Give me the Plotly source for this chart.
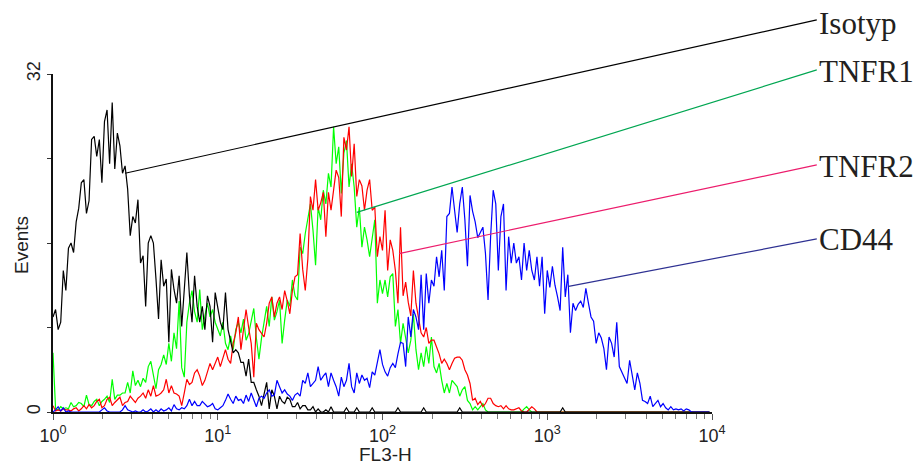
import math
import plotly.graph_objects as go

# ---- data ----
channels = list(range(256))  # histogram channel (256-channel log scale over 4 decades)

isotyp = [
    9.0, 9.7, 7.8, 8.5, 13.4, 11.5, 15.5, 16.0, 15.1, 18.0, 19.3, 21.7, 22.0, 18.8, 20.0, 25.8,
    26.1, 24.2, 25.8, 21.7, 27.5, 28.6, 23.5, 29.3, 23.0, 26.4, 25.2, 22.6, 23.3, 21.1, 16.7, 18.5,
    17.9, 20.1, 14.1, 14.8, 10.0, 16.0, 16.7, 16.0, 12.6, 8.8, 14.4, 11.9, 12.6, 6.6, 13.5, 11.6,
    10.3, 12.9, 8.1, 11.6, 15.1, 11.0, 8.5, 12.9, 10.0, 8.5, 10.0, 7.8, 11.0, 10.0, 6.6, 11.3,
    9.7, 8.5, 7.8, 11.3, 7.8, 6.6, 5.6, 5.9, 5.6, 4.7, 4.7, 3.4, 5.0, 2.8, 2.8, 2.1,
    1.5, 0.6, 1.8, 2.8, 0.3, 2.1, 1.5, 0.3, 1.5, 1.0, 0.8, 1.4, 1.2, 0.5, 0.5, 0.9,
    0.3, 0.6, 0.6, 0.2, 0.2, 0.5, 0.0, 0.3, 0.0, 0.0, 0.2, 0.0, 0.5, 0.0, 0.0, 0.0,
    0.0, 0.0, 0.4, 0.0, 0.0, 0.0, 0.4, 0.0, 0.0, 0.0, 0.0, 0.0, 0.4, 0.0, 0.0, 0.0,
    0.0, 0.0, 0.0, 0.0, 0.0, 0.0, 0.4, 0.0, 0.0, 0.0, 0.0, 0.0, 0.0, 0.0, 0.0, 0.0,
    0.4, 0.0, 0.0, 0.0, 0.0, 0.0, 0.0, 0.0, 0.0, 0.0, 0.0, 0.0, 0.0, 0.0, 0.4, 0.0,
    0.0, 0.0, 0.0, 0.0, 0.0, 0.0, 0.0, 0.0, 0.0, 0.0, 0.0, 0.0, 0.0, 0.0, 0.0, 0.0,
    0.0, 0.0, 0.0, 0.0, 0.0, 0.0, 0.0, 0.0, 0.0, 0.0, 0.0, 0.0, 0.0, 0.0, 0.0, 0.0,
    0.0, 0.0, 0.0, 0.0, 0.0, 0.0, 0.4, 0.0, 0.0, 0.0, 0.0, 0.0, 0.0, 0.0, 0.0, 0.0,
    0.0, 0.0, 0.0, 0.0, 0.0, 0.0, 0.0, 0.0, 0.0, 0.0, 0.0, 0.0, 0.0, 0.0, 0.0, 0.0,
    0.0, 0.0, 0.0, 0.0, 0.0, 0.0, 0.0, 0.0, 0.0, 0.0, 0.0, 0.0, 0.0, 0.0, 0.0, 0.0,
    0.0, 0.0, 0.0, 0.0, 0.0, 0.0, 0.0, 0.0, 0.0, 0.0, 0.0, 0.0, 0.0, 0.0, 0.0, 0.0,
]

tnfr1 = [
    5.6, 0.3, 0.2, 0.5, 0.3, 0.4, 0.3, 0.9, 0.5, 0.6, 0.9, 0.8, 0.5, 1.6, 0.7, 0.6,
    1.0, 1.2, 0.6, 1.0, 1.2, 1.5, 0.9, 3.1, 1.2, 1.6, 1.6, 1.8, 1.8, 2.8, 1.8, 3.9,
    2.5, 3.0, 2.4, 3.2, 2.8, 4.3, 4.8, 3.3, 2.2, 4.0, 4.5, 5.4, 4.5, 6.5, 4.8, 7.5,
    6.0, 10.5, 4.2, 3.3, 8.5, 10.3, 11.5, 9.5, 8.5, 11.6, 7.8, 9.1, 10.3, 9.0, 9.7, 8.5,
    7.8, 7.2, 8.5, 6.5, 5.9, 7.2, 5.9, 7.8, 8.5, 7.5, 8.8, 6.8, 7.4, 8.5, 9.8, 7.0,
    5.0, 7.0, 8.7, 10.0, 8.1, 10.9, 8.7, 9.5, 10.6, 6.5, 8.7, 10.6, 10.0, 12.5, 11.0, 10.6,
    15.6, 15.0, 16.9, 18.2, 19.7, 17.2, 13.9, 19.4, 18.2, 21.0, 19.7, 22.6, 21.3, 27.0, 23.5, 25.1,
    20.7, 24.5, 25.7, 21.3, 23.5, 21.3, 17.5, 19.4, 15.6, 17.5, 16.3, 14.7, 16.6, 18.2, 10.3, 12.5,
    11.2, 12.5, 10.9, 12.8, 13.1, 8.1, 9.7, 6.5, 8.4, 7.1, 5.6, 6.8, 9.3, 5.9, 4.0, 5.6,
    4.3, 6.2, 4.6, 7.1, 4.3, 3.7, 4.6, 3.0, 1.8, 2.7, 1.8, 3.0, 2.7, 2.4, 1.5, 2.1,
    2.4, 1.1, 0.8, 0.2, 0.5, 0.2, 0.5, 0.8, 0.2, 0.0, 0.0, 0.0, 0.0, 0.0, 0.0, 0.0,
    0.0, 0.0, 0.0, 0.0, 0.0, 0.0, 0.0, 0.3, 0.5, 0.2, 0.0, 0.0, 0.0, 0.0, 0.0, 0.0,
    0.0, 0.0, 0.0, 0.0, 0.0, 0.0, 0.0, 0.0, 0.0, 0.0, 0.0, 0.0, 0.0, 0.0, 0.0, 0.0,
    0.0, 0.0, 0.0, 0.0, 0.0, 0.0, 0.0, 0.0, 0.0, 0.0, 0.0, 0.0, 0.0, 0.0, 0.0, 0.0,
    0.0, 0.0, 0.0, 0.0, 0.0, 0.0, 0.0, 0.0, 0.0, 0.0, 0.0, 0.0, 0.0, 0.0, 0.0, 0.0,
    0.0, 0.0, 0.0, 0.0, 0.0, 0.0, 0.0, 0.0, 0.0, 0.0, 0.0, 0.0, 0.0, 0.0, 0.0, 0.0,
]

tnfr2 = [
    0.6, 0.1, 0.2, 0.1, 0.3, 0.2, 0.2, 0.1, 0.3, 0.4, 0.1, 0.3, 0.6, 0.3, 0.7, 0.4,
    0.6, 1.0, 1.2, 0.4, 0.6, 1.2, 1.4, 0.6, 0.9, 1.2, 1.4, 0.6, 0.9, 1.0, 1.5, 1.2,
    0.9, 1.3, 1.5, 1.8, 1.3, 2.1, 1.5, 2.5, 1.5, 1.6, 1.8, 2.1, 3.1, 1.8, 2.5, 1.8,
    1.7, 1.5, 0.6, 1.8, 3.1, 2.6, 2.8, 3.7, 4.0, 3.4, 2.5, 3.0, 3.7, 4.6, 4.0, 4.7,
    5.2, 4.3, 5.2, 5.9, 5.0, 4.6, 6.5, 7.5, 9.0, 5.9, 7.8, 9.7, 8.0, 6.5, 3.3, 8.4,
    7.8, 7.5, 7.1, 8.4, 10.3, 10.9, 9.0, 10.3, 10.9, 9.7, 11.5, 10.5, 9.3, 11.5, 12.8, 13.0,
    16.9, 13.5, 11.5, 14.5, 20.4, 19.1, 22.0, 19.1, 19.8, 20.8, 16.6, 20.8, 19.1, 21.0, 22.9, 22.2,
    18.5, 26.0, 24.8, 27.0, 22.3, 25.4, 20.4, 22.0, 21.4, 19.1, 21.0, 22.0, 19.1, 19.4, 14.7, 16.6,
    15.3, 19.1, 13.4, 16.3, 15.3, 13.4, 10.3, 17.5, 11.0, 12.3, 10.4, 9.1, 13.4, 10.3, 9.0, 7.5,
    7.1, 8.0, 6.5, 6.8, 6.8, 6.2, 5.5, 4.6, 5.0, 4.6, 4.0, 4.6, 5.1, 5.2, 5.2, 4.9,
    4.0, 3.5, 2.7, 1.1, 1.3, 0.7, 1.0, 0.5, 0.8, 1.3, 1.3, 0.8, 0.6, 0.5, 0.6, 0.3,
    0.6, 0.3, 0.2, 0.2, 0.3, 0.4, 0.1, 0.0, 0.0, 0.3, 0.5, 0.3, 0.0, 0.0, 0.0, 0.0,
    0.0, 0.0, 0.0, 0.0, 0.0, 0.0, 0.0, 0.0, 0.0, 0.0, 0.0, 0.0, 0.0, 0.0, 0.0, 0.0,
    0.0, 0.0, 0.0, 0.0, 0.0, 0.0, 0.0, 0.0, 0.0, 0.0, 0.0, 0.0, 0.0, 0.0, 0.0, 0.0,
    0.0, 0.0, 0.0, 0.0, 0.0, 0.0, 0.0, 0.0, 0.0, 0.0, 0.0, 0.0, 0.0, 0.0, 0.0, 0.0,
    0.0, 0.0, 0.0, 0.0, 0.0, 0.0, 0.0, 0.0, 0.0, 0.0, 0.0, 0.0, 0.0, 0.0, 0.0, 0.0,
]

cd44 = [
    0.0, 0.2, 0.5, 0.1, 0.4, 0.0, 0.1, 0.0, 0.0, 0.0, 0.0, 0.0, 0.0, 0.0, 0.0, 0.0,
    0.0, 0.0, 0.0, 0.2, 0.4, 0.1, 0.0, 0.0, 0.0, 0.0, 0.0, 0.2, 0.6, 0.2, 0.1, 0.0,
    0.1, 0.0, 0.0, 0.2, 0.0, 0.1, 0.3, 0.0, 0.2, 0.0, 0.3, 0.1, 0.2, 0.4, 0.1, 0.7,
    0.3, 0.2, 0.4, 0.3, 0.6, 1.2, 0.6, 1.0, 0.6, 0.6, 1.0, 0.7, 0.5, 0.6, 0.8, 0.3,
    0.2, 0.4, 0.6, 1.1, 1.7, 1.2, 0.8, 1.5, 1.1, 1.2, 0.8, 1.6, 1.0, 1.8, 1.1, 0.5,
    1.3, 1.5, 1.3, 1.8, 2.1, 1.5, 1.6, 3.0, 2.4, 1.8, 2.1, 1.7, 1.5, 1.1, 1.6, 1.8,
    1.5, 3.0, 2.7, 3.7, 2.4, 2.7, 3.0, 4.3, 3.0, 3.4, 3.7, 2.4, 3.7, 3.0, 2.4, 1.5,
    3.3, 2.4, 3.0, 4.6, 2.4, 1.8, 3.7, 2.7, 3.5, 3.0, 3.2, 2.3, 3.8, 3.5, 4.6, 5.9,
    4.5, 3.8, 3.4, 4.2, 4.6, 4.2, 5.5, 6.6, 6.5, 4.3, 9.0, 7.1, 9.7, 9.0, 7.8, 13.0,
    7.8, 13.1, 10.3, 12.5, 11.9, 14.7, 12.8, 15.3, 11.5, 18.5, 18.8, 21.3, 19.1, 17.0, 19.7, 21.3,
    18.2, 13.8, 20.5, 19.0, 18.0, 16.5, 17.0, 17.5, 15.0, 10.6, 16.6, 21.0, 19.7, 13.4, 18.5, 19.7,
    11.5, 16.6, 14.1, 16.0, 14.1, 14.7, 12.5, 16.0, 13.4, 15.3, 13.4, 12.5, 14.7, 11.9, 14.7, 9.3,
    13.4, 11.8, 13.8, 12.0, 10.9, 9.6, 15.6, 10.9, 13.0, 7.5, 10.3, 9.6, 10.2, 10.5, 9.9, 11.7,
    10.3, 9.0, 8.6, 6.5, 7.5, 7.0, 6.0, 4.0, 7.1, 6.5, 5.2, 8.5, 4.3, 3.8, 3.3, 2.7,
    4.9, 3.3, 2.1, 3.7, 2.7, 1.1, 1.0, 0.8, 1.5, 0.5, 0.8, 1.1, 0.5, 0.8, 0.4, 0.2,
    0.5, 0.2, 0.3, 0.2, 0.3, 0.1, 0.3, 0.2, 0.0, 0.0, 0.0, 0.0, 0.0, 0.0, 0.0, 0.0,
]

series_names = ["Isotyp", "TNFR1", "TNFR2", "CD44"]
# point on each curve where its label leader line starts (channel, events)
anchor_channel = [28, 118, 134.4, 200.3]
anchor_events = [22.6, 18.9, 15.0, 11.9]

x_tick_values = [1, 10, 100, 1000, 10000]
x_tick_text = ["10<sup>0</sup>", "10<sup>1</sup>", "10<sup>2</sup>", "10<sup>3</sup>", "10<sup>4</sup>"]
y_tick_values = [0, 32]
y_tick_text = ["0", "32"]
y_minor_ticks = [8, 16, 24]


# ---- figure ----
def fl3(ch):
    return 10 ** (ch / 64.0)


x_vals = [fl3(c) for c in channels]
series = {"Isotyp": isotyp, "TNFR1": tnfr1, "TNFR2": tnfr2, "CD44": cd44}
trace_color = {"Isotyp": "#000000", "TNFR1": "#00ff00", "TNFR2": "#ff0000", "CD44": "#0000ff"}
leader_color = {"Isotyp": "#000000", "TNFR1": "#00a651", "TNFR2": "#ec1c6c", "CD44": "#2e3192"}

fig = go.Figure()
for name in ["TNFR1", "TNFR2", "Isotyp", "CD44"]:
    fig.add_trace(go.Scatter(
        x=x_vals, y=series[name], mode="lines", name=name,
        line=dict(color=trace_color[name], width=1.2),
        showlegend=False, hoverinfo="skip",
    ))

Y_MAX = 32.0
label_end_y = [1.160, 1.012, 0.731, 0.512]
label_text_y = [1.150, 1.006, 0.727, 0.509]
END_X = 1.159
TEXT_X = 1.160

shapes = []
annotations = []
for i, name in enumerate(series_names):
    x0 = math.log10(fl3(anchor_channel[i])) / 4.0
    y0 = anchor_events[i] / Y_MAX
    shapes.append(dict(
        type="line", xref="paper", yref="paper",
        x0=x0, y0=y0, x1=END_X, y1=label_end_y[i],
        line=dict(color=leader_color[name], width=1.2), layer="above",
    ))
    annotations.append(dict(
        text=name, xref="paper", yref="paper", x=TEXT_X, y=label_text_y[i],
        xanchor="left", yanchor="middle", showarrow=False,
        font=dict(family="Liberation Serif, Times New Roman, serif", size=31, color="#231f20"),
    ))

# axis titles
annotations.append(dict(
    text="Events", xref="paper", yref="paper", x=-0.0486, y=0.494,
    xanchor="center", yanchor="middle", textangle=-90, showarrow=False,
    font=dict(size=19, color="#222222"),
))
annotations.append(dict(
    text="FL3-H", xref="paper", yref="paper", x=0.505, y=-0.127,
    xanchor="center", yanchor="middle", showarrow=False,
    font=dict(size=19, color="#222222"),
))

fig.update_layout(
    width=920, height=466,
    margin=dict(l=53, r=208, t=74, b=54),
    paper_bgcolor="white", plot_bgcolor="white",
    shapes=shapes, annotations=annotations,
    font=dict(family="Liberation Sans, Arial, sans-serif", size=18, color="#222222"),
)
fig.update_xaxes(
    type="log", range=[0, 4], automargin=False,
    tickvals=x_tick_values, ticktext=x_tick_text,
    ticks="outside", ticklen=6, tickcolor="#555555", tickwidth=1,
    ticklabelstandoff=0,
    minor=dict(ticks="outside", ticklen=5, tickcolor="#777777",
               tickvals=[m * 10 ** d for d in range(4) for m in range(2, 10)]),
    showline=True, linecolor="#111111", linewidth=2,
    showgrid=False, zeroline=False,
    tickfont=dict(size=18),
)
fig.update_yaxes(
    range=[0, Y_MAX], automargin=False,
    tickvals=y_tick_values, ticktext=y_tick_text, tickangle=-90,
    ticks="outside", ticklen=4, tickcolor="#333333",
    minor=dict(ticks="outside", ticklen=4, tickcolor="#333333", tickvals=y_minor_ticks),
    showline=True, linecolor="#111111", linewidth=2,
    showgrid=False, zeroline=False,
    tickfont=dict(size=18),
)

fig.write_html("out.html")
